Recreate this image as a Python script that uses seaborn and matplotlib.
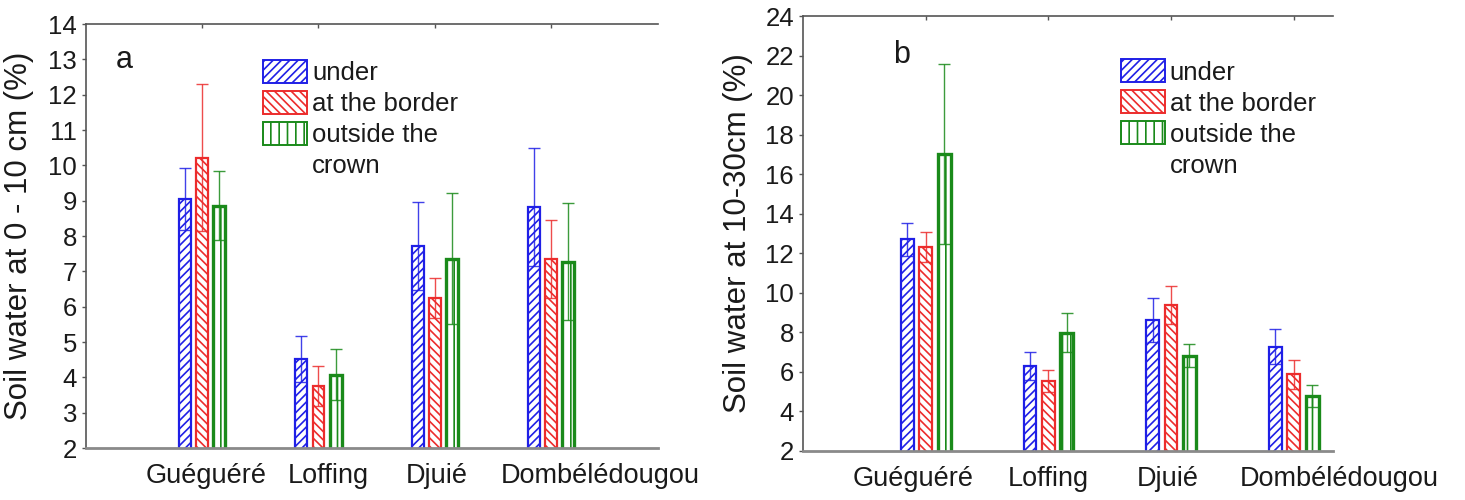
import numpy as np
import pandas as pd
import matplotlib
matplotlib.use("Agg")
import matplotlib.pyplot as plt
import matplotlib.transforms as mtransforms
from matplotlib.patches import Patch
import seaborn as sns

# ---------------- data ----------------
sites = ["Guéguéré", "Loffing", "Djuié", "Dombélédougou"]
positions = ["under", "at the border", "outside the crown"]
legend_labels = ["under", "at the border", "outside the"]
legend_extra = "crown"

a_under = [9.04, 4.52, 7.72, 8.83]
a_under_err = [0.88, 0.66, 1.24, 1.67]
a_border = [10.22, 3.75, 6.25, 7.34]
a_border_err = [2.07, 0.57, 0.57, 1.10]
a_outside = [8.86, 4.07, 7.36, 7.27]
a_outside_err = [0.98, 0.72, 1.85, 1.65]

b_under = [12.70, 6.31, 8.62, 7.27]
b_under_err = [0.84, 0.71, 1.10, 0.88]
b_border = [12.33, 5.55, 9.38, 5.87]
b_border_err = [0.76, 0.57, 0.96, 0.73]
b_outside = [17.02, 7.98, 6.82, 4.78]
b_outside_err = [4.55, 0.98, 0.57, 0.55]

a_ylabel = "Soil water at 0 - 10 cm (%)"
b_ylabel = "Soil water at 10-30cm (%)"
a_yticks = list(range(2, 15))
b_yticks = list(range(2, 25, 2))

# ---------------- style ----------------
colors = ["#1f1fe6", "#ec2c2c", "#1a8a1a"]
hatches = ["////", "\\\\\\\\", "||"]
edge_lw = [1.6, 1.6, 2.4]

sns.set_theme(style="white")
plt.rcParams["font.family"] = ["Liberation Sans", "DejaVu Sans"]
plt.rcParams["hatch.linewidth"] = 1.2
plt.rcParams["text.color"] = "#1a1a1a"

fig = plt.figure(figsize=(14.65, 5.0), dpi=100)
ax_a = fig.add_axes([0.0587, 0.104, 0.3904, 0.848])
ax_b = fig.add_axes([0.5481, 0.098, 0.3618, 0.870])


def build_df(vals, errs):
    rows = []
    for pos, v, e in zip(positions, vals, errs):
        for s, vv, ee in zip(sites, v, e):
            rows.append({"site": s, "position": pos, "value": vv, "err": ee})
    return pd.DataFrame(rows)


def draw_panel(ax, df, yticks, ylabel, letter, letter_xy, xlim, width,
               legend_anchor, label_offsets, labelpad):
    sns.barplot(data=df, x="site", y="value", hue="position",
                order=sites, hue_order=positions, palette=colors,
                width=width, gap=0.3, errorbar=None, legend=False, ax=ax,
                saturation=1)
    bar_containers = list(ax.containers)
    for i, cont in enumerate(bar_containers):
        sub = df[df["position"] == positions[i]].set_index("site").loc[sites]
        xs = []
        for bar in cont:
            bar.set_facecolor("white")
            bar.set_edgecolor(colors[i])
            bar.set_hatch(hatches[i])
            bar.set_linewidth(edge_lw[i])
            bar.set_zorder(2)
            xs.append(bar.get_x() + bar.get_width() / 2)
        ax.errorbar(xs, sub["value"].values, yerr=sub["err"].values,
                    fmt="none", ecolor=colors[i], elinewidth=1.0,
                    capsize=4.3, capthick=1.0, alpha=0.85, zorder=3)

    ax.set_xlim(*xlim)
    ax.set_ylim(yticks[0], yticks[-1])
    ax.set_yticks(yticks)
    ax.set_yticklabels([str(t) for t in yticks], fontsize=18.5,
                       color="#1a1a1a")
    ax.set_xlabel("")
    ax.set_ylabel(ylabel, fontsize=22.5, color="#1a1a1a", labelpad=labelpad)

    for side in ["left", "top"]:
        ax.spines[side].set_color("#555555")
        ax.spines[side].set_linewidth(1.2)
    ax.spines["bottom"].set_color("#8a8a8a")
    ax.spines["bottom"].set_linewidth(2.0)
    ax.spines["right"].set_visible(False)

    ax.tick_params(axis="y", left=True, direction="out", length=3, width=1,
                   color="#555555", pad=3.5)
    ax.tick_params(axis="x", bottom=False, top=True, direction="in",
                   length=3, width=1, color="#555555", labelsize=19.5,
                   labelcolor="#1a1a1a", pad=11)
    for lab, dx in zip(ax.get_xticklabels(), label_offsets):
        lab.set_transform(lab.get_transform() +
                          mtransforms.ScaledTranslation(dx / 100.0, 0,
                                                        fig.dpi_scale_trans))

    ax.text(letter_xy[0], letter_xy[1], letter, transform=ax.transAxes,
            fontsize=22, color="#1a1a1a", ha="left", va="top")

    handles = [Patch(facecolor="white", edgecolor=c, hatch=h, linewidth=1.4)
               for c, h in zip(colors, hatches)]
    handles.append(Patch(facecolor="none", edgecolor="none"))
    ax.legend(handles, legend_labels + [legend_extra], loc="upper left",
              bbox_to_anchor=legend_anchor, frameon=False, fontsize=18.5,
              handlelength=1.7, handleheight=1.0, handletextpad=0.2,
              labelspacing=0.22, borderpad=0, borderaxespad=0)


df_a = build_df([a_under, a_border, a_outside],
                [a_under_err, a_border_err, a_outside_err])
df_b = build_df([b_under, b_border, b_outside],
                [b_under_err, b_border_err, b_outside_err])

draw_panel(ax_a, df_a, a_yticks, a_ylabel, "a", (0.052, 0.95),
           (-1.0, 3.92), 0.44, (0.31, 0.916), [4, 10, 2, 49], 10)
draw_panel(ax_b, df_b, b_yticks, b_ylabel, "b", (0.17, 0.945),
           (-1.0, 3.32), 0.45, (0.60, 0.900), [-13, 0, -3, 46], 8.5)

fig.savefig("out.png", dpi=100, facecolor="white")
